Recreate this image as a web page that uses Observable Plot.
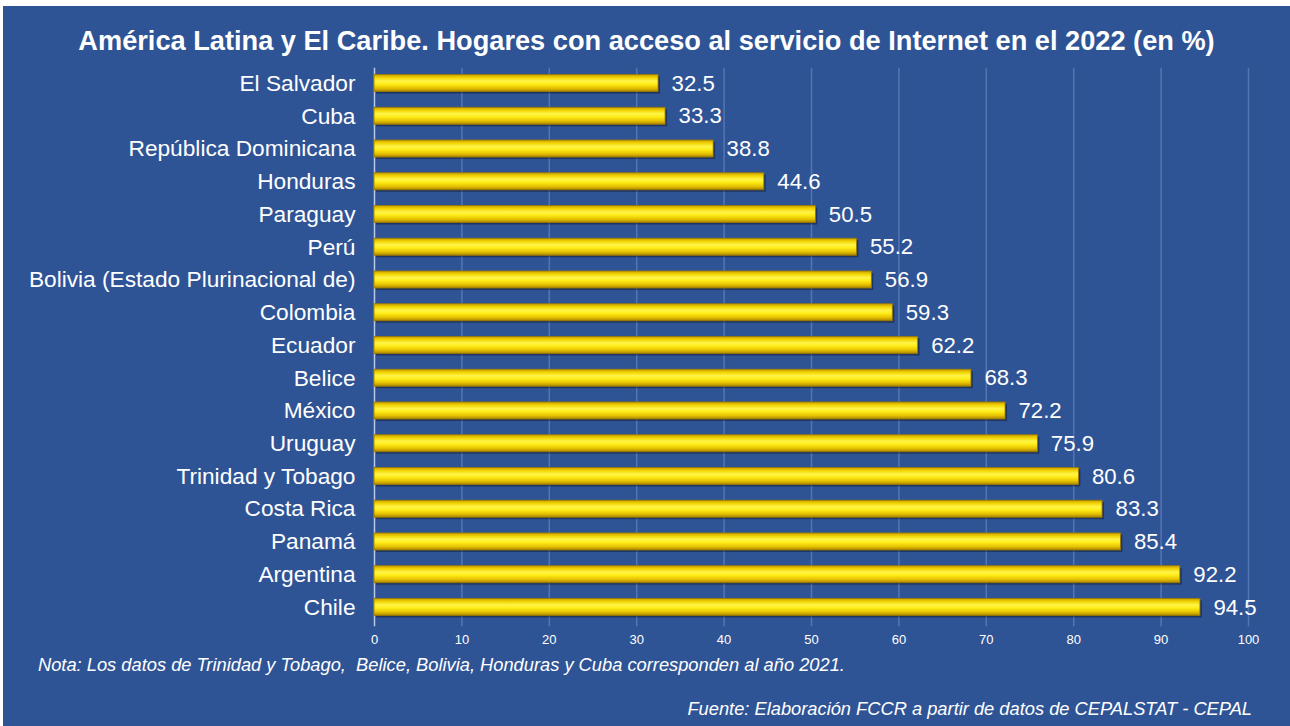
<!DOCTYPE html>
<html>
<head>
<meta charset="utf-8">
<script src="https://cdn.jsdelivr.net/npm/d3@7"></script>
<script src="https://cdn.jsdelivr.net/npm/@observablehq/plot@0.6"></script>
<style>
  html, body { margin: 0; padding: 0; background: #ffffff; }
  #frame { position: absolute; left: 3px; top: 6px; width: 1287px; height: 720px; background: #2F5496; font-family: "Liberation Sans", Arial, sans-serif; color: #fff; overflow: hidden; }
  #title { position: absolute; left: 0; width: 100%; top: 19px; text-align: center; font-weight: bold; font-size: 27.2px; color: #fff; white-space: nowrap; }
  #chart { position: absolute; left: 0; top: 0; }
  #nota { position: absolute; left: 35px; top: 648px; font-style: italic; font-size: 18.3px; color: #fff; white-space: nowrap; }
  #fuente { position: absolute; right: 38px; top: 692px; font-style: italic; font-size: 18.3px; color: #fff; white-space: nowrap; }
</style>
</head>
<body>
<div id="frame">
  <div id="chart"></div>
  <div id="title">América Latina y El Caribe. Hogares con acceso al servicio de Internet en el 2022 (en %)</div>
  <div id="nota">Nota: Los datos de Trinidad y Tobago,&nbsp; Belice, Bolivia, Honduras y Cuba corresponden al año 2021.</div>
  <div id="fuente">Fuente: Elaboración FCCR a partir de datos de CEPALSTAT - CEPAL</div>
</div>
<script>
const countries = ["El Salvador", "Cuba", "República Dominicana", "Honduras", "Paraguay", "Perú",
  "Bolivia (Estado Plurinacional de)", "Colombia", "Ecuador", "Belice", "México", "Uruguay",
  "Trinidad y Tobago", "Costa Rica", "Panamá", "Argentina", "Chile"];
const values = [32.5, 33.3, 38.8, 44.6, 50.5, 55.2, 56.9, 59.3, 62.2, 68.3, 72.2, 75.9, 80.6, 83.3, 85.4, 92.2, 94.5];
const xTicks = [0, 10, 20, 30, 40, 50, 60, 70, 80, 90, 100];

const data = countries.map((c, i) => ({country: c, value: values[i]}));

const chart = Plot.plot({
  width: 1287,
  height: 644,
  marginLeft: 371,
  marginRight: 42,
  marginTop: 52.8,
  marginBottom: 18.8,
  style: {background: "transparent", color: "#fff", fontFamily: "Liberation Sans, Arial, sans-serif"},
  x: {domain: [0, 100], ticks: xTicks, label: null},
  y: {domain: countries, padding: 0.48, round: false, label: null},
  marks: [
    Plot.gridX(xTicks.filter(d => d > 0), {stroke: "#6F8CC4", strokeOpacity: 0.6, strokeWidth: 1.5, insetTop: 9, insetBottom: 5}),
    Plot.ruleX([0], {stroke: "#B8C8E6", strokeWidth: 1.5, insetTop: 9, insetBottom: 5}),
    Plot.barX(data, {x: "value", y: "country", fill: "#000", fillOpacity: 0.35, dx: 2, dy: 2}),
    Plot.barX(data, {x: "value", y: "country", fill: "url(#barGrad)", stroke: "#9C7A00", strokeWidth: 0.8}),
    Plot.text(data, {x: "value", y: "country", text: d => d.value.toFixed(1), textAnchor: "start", dx: 13, fill: "#fff", fontSize: 22.2}),
    Plot.axisY({tickSize: 0, tickPadding: 19, fontSize: 22.7, fill: "#fff", label: null}),
    Plot.axisX({ticks: xTicks, tickSize: 0, tickPadding: 3, fontSize: 13, fill: "#fff", label: null})
  ]
});

const defs = d3.create("svg:defs");
const g = defs.append("linearGradient").attr("id", "barGrad").attr("x1", 0).attr("y1", 0).attr("x2", 0).attr("y2", 1);
[[0, "#C9A000"], [0.18, "#F2D400"], [0.38, "#FFF44A"], [0.55, "#FFEE1A"], [0.8, "#E6C200"], [1, "#A98400"]].forEach(([o, c]) =>
  g.append("stop").attr("offset", o).attr("stop-color", c));
chart.insertBefore(defs.node(), chart.firstChild);

document.getElementById("chart").appendChild(chart);
</script>
</body>
</html>
